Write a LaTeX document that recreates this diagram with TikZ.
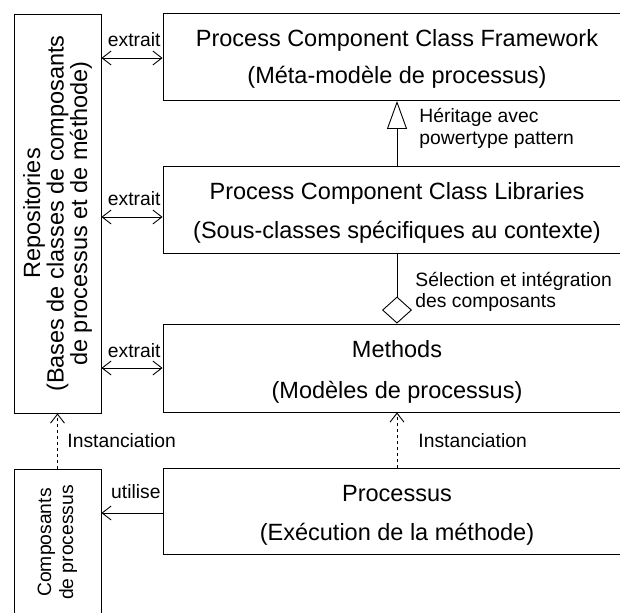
\documentclass[tikz,border=0pt]{standalone}
\usepackage{fontspec}
\setmainfont{Liberation Sans}
\usetikzlibrary{arrows.meta,shapes.geometric}
\begin{document}
\begin{tikzpicture}[x=1pt,y=-1pt,line width=0.9pt,
  box/.style={draw,minimum width=468pt,minimum height=87pt,inner sep=0pt},
  sidebox/.style={draw,minimum width=87pt,inner sep=0pt},
  big/.style={font=\fontsize{23.5}{28}\selectfont,anchor=base,inner sep=0pt},
  lbl/.style={font=\fontsize{19.3}{22}\selectfont,inner sep=0pt},
  barb/.style={-{Straight Barb[length=9pt,width=14pt,line width=0.9pt]}},
  dbarb/.style={{Straight Barb[length=9pt,width=14pt,line width=0.9pt]}-{Straight Barb[length=9pt,width=14pt,line width=0.9pt]}},
  dashline/.style={dash pattern=on 3pt off 3pt}
]
\useasboundingbox (0,0) rectangle (620,612);
% main boxes
\node[box] (fw) at (397,57) {};
\node[box] (lib) at (397,210) {};
\node[box,minimum height=88pt] (meth) at (397,368) {};
\node[box,minimum height=86pt] (proc) at (397,511) {};
\node[sidebox,minimum height=399pt] (repo) at (57.5,213.5) {};
\node[sidebox,minimum height=147pt] (comp) at (57.5,542.5) {};
% box texts
\node[big] (fw1) at (397,47) {Process Component Class Framework};
\node[big] (fw2) at (397,84) {(Méta-modèle de processus)};
\node[big] (lib1) at (397,200) {Process Component Class Libraries};
\node[big] (lib2) at (397,238) {(Sous-classes spécifiques au contexte)};
\node[big] (meth1) at (397,357) {Methods};
\node[big] (meth2) at (397,398) {(Modèles de processus)};
\node[big] (proc1) at (397,501) {Processus};
\node[big] (proc2) at (397,540) {(Exécution de la méthode)};
\node[rotate=90,align=center,inner sep=0pt,font=\fontsize{23.5}{23.5}\selectfont] (repot) at (repo.center)
  {Repositories\\(Bases de classes de composants\\de processus et de méthode)};
\node[rotate=90,align=center,inner sep=0pt,font=\fontsize{19.3}{22}\selectfont] (compt) at (comp.center)
  {Composants\\de processus};
% extrait connectors
\draw[dbarb] ([yshift=-1pt]repo.east |- fw.west) -- ([yshift=-1pt]fw.west);
\draw[dbarb] ([yshift=-7pt]repo.east |- lib.west) -- ([yshift=-7pt]lib.west);
\draw[dbarb] (repo.east |- meth.west) -- (meth.west);
\node[lbl,anchor=base east] (ex1) at (161,47) {extrait};
\node[lbl,anchor=base east] (ex2) at (161,206) {extrait};
\node[lbl,anchor=base east] (ex3) at (161,357) {extrait};
% inheritance
\draw[-{Triangle[open,length=28pt,width=20pt,line width=0.9pt]}] (lib.north) -- (fw.south);
\node[lbl,anchor=base west] (h1) at (419,123) {Héritage avec};
\node[lbl,anchor=base west] (h2) at (419,145) {powertype pattern};
% aggregation
\draw[{Diamond[open,length=27pt,width=30pt,line width=0.9pt]}-] (meth.north) -- (lib.south);
\node[lbl,anchor=base west] (s1) at (415,286) {Sélection et intégration};
\node[lbl,anchor=base west] (s2) at (415,307) {des composants};
% instanciation
\draw[dashline,barb] (proc.north) -- (meth.south);
\node[lbl,anchor=base west] (i1) at (418,447) {Instanciation};
\draw[dashline,barb] (comp.north) -- (repo.south);
\node[lbl,anchor=base west] (i2) at (67,447) {Instanciation};
% utilise
\draw[barb] ([yshift=-2pt]proc.west) -- ([yshift=-2pt]proc.west -| comp.east);
\node[lbl,anchor=base east] (ut) at (161,498) {utilise};
\end{tikzpicture}
\end{document}
